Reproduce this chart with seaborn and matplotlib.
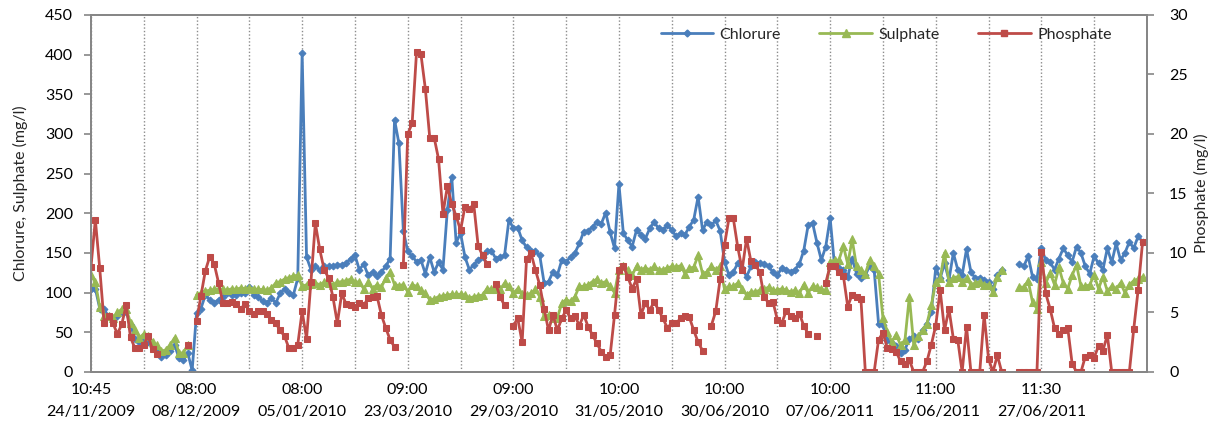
import numpy as np
import pandas as pd
import matplotlib
matplotlib.use("Agg")
import matplotlib.pyplot as plt
from matplotlib.lines import Line2D
import seaborn as sns

nan = np.nan

# ==========================
# DATA
# ==========================

chlorure = [
    105, 105, 80, 79, 70, 66, 70, 76, 76, 59, 42, 38,
    40, 38, 32, 26, 19, 21, 26, 34, 18, 15, 24, 2,
    74, 80, 97, 91, 87, 91, 95, 99, 97, 97, 99, 99,
    107, 97, 95, 89, 87, 93, 87, 99, 105, 99, 97, 118,
    402, 145, 129, 133, 129, 133, 133, 133, 135, 135, 137, 143,
    147, 129, 136, 122, 126, 121, 126, 133, 143, 318, 288, 178,
    152, 146, 139, 141, 124, 145, 126, 138, 129, 204, 246, 163,
    175, 145, 129, 135, 141, 145, 152, 153, 143, 145, 147, 192,
    181, 182, 166, 157, 152, 152, 147, 112, 114, 126, 122, 141,
    139, 145, 150, 162, 177, 178, 183, 189, 187, 201, 176, 156,
    237, 175, 166, 158, 179, 173, 168, 181, 189, 181, 179, 185,
    179, 171, 175, 173, 183, 192, 221, 179, 189, 185, 191, 178,
    139, 122, 126, 137, 131, 120, 133, 139, 137, 136, 133, 126,
    122, 131, 129, 126, 129, 136, 153, 185, 188, 163, 141, 158,
    194, 134, 131, 129, 120, 143, 124, 118, 122, 134, 129, 61,
    59, 40, 36, 33, 24, 28, 42, 45, 42, 53, 61, 76,
    131, 118, 137, 116, 150, 129, 122, 155, 126, 118, 119, 116,
    114, 105, 122, 129, nan, nan, nan, 136, 133, 146, 120, 117,
    156, 141, 138, 129, 143, 156, 147, 139, 158, 150, 133, 124,
    146, 137, 129, 156, 138, 162, 141, 150, 164, 156, 171, 164,
]

sulphate = [
    122, 113, 82, 70, 71, 68, 75, 79, 80, 62, 53, 43,
    48, 45, 38, 34, 26, 28, 34, 43, 24, 24, 34, nan,
    97, 100, 102, 103, 104, 105, 104, 103, 105, 104, 106, 105,
    106, 105, 104, 104, 103, 106, 112, 114, 117, 119, 121, 122,
    108, 110, 111, 112, 110, 113, 112, 110, 113, 114, 115, 117,
    114, 113, 105, 113, 105, 110, 107, 118, 126, 110, 109, 110,
    101, 110, 108, 103, 99, 91, 92, 95, 96, 97, 98, 98,
    98, 97, 93, 95, 96, 97, 105, 104, 105, 104, 112, 108,
    99, 105, 98, 97, 99, 104, 95, 70, 72, 68, 68, 87,
    91, 89, 95, 108, 108, 110, 114, 117, 112, 114, 108, 100,
    129, 133, 129, 122, 133, 129, 131, 129, 133, 129, 129, 131,
    133, 132, 134, 124, 131, 132, 147, 124, 126, 133, 129, 133,
    104, 108, 108, 112, 105, 97, 101, 101, 103, 104, 107, 103,
    103, 105, 103, 101, 103, 99, 110, 100, 108, 107, 104, 103,
    139, 141, 141, 159, 136, 167, 133, 129, 124, 141, 133, 124,
    68, 51, 38, 47, 34, 40, 95, 34, 45, 53, 61, 84,
    114, 118, 150, 114, 119, 120, 114, 118, 110, 112, 114, 110,
    110, 101, 120, 129, nan, nan, nan, 107, 107, 115, 88, 80,
    138, 112, 125, 110, 132, 112, 105, 122, 135, 108, 108, 110,
    122, 105, 120, 102, 108, 105, 112, 100, 110, 115, 117, 120,
]

phosphate = [
    8.8, 12.8, 8.7, 4.1, 4.7, 4.1, 3.2, 4.0, 5.6, 2.9, 2.0, 2.0,
    2.3, 3.0, 1.9, 1.5, nan, nan, nan, nan, nan, nan, 2.3, nan,
    4.3, 6.4, 8.5, 9.7, 9.1, 7.5, 5.8, 5.8, 5.9, 5.7, 5.3, 5.7,
    5.1, 4.9, 5.1, 5.1, 4.9, 4.4, 4.1, 3.5, 3.0, 2.0, 2.0, 2.3,
    5.1, 2.8, 7.6, 12.5, 10.3, 8.6, 7.9, 6.3, 4.1, 6.6, 5.7, 5.6,
    5.5, 5.8, 5.6, 6.2, 6.3, 6.4, 4.8, 3.7, 2.7, 2.1, nan, 9.0,
    20.0, 20.9, 26.9, 26.7, 23.8, 19.7, 19.7, 17.9, 13.3, 15.6, 14.1, 13.1,
    11.9, 13.9, 13.7, 14.1, 10.6, 9.8, 9.1, nan, 7.4, 6.3, 5.6, nan,
    3.9, 4.5, 2.5, 9.5, 10.0, 8.6, 7.3, 5.3, 3.5, 4.8, 3.5, 4.5,
    5.2, 4.5, 4.7, 3.9, 4.8, 3.8, 3.1, 2.4, 1.7, 1.3, 1.4, 4.8,
    8.6, 8.9, 8.0, 7.0, 7.8, 4.8, 5.8, 5.2, 5.9, 5.2, 4.5, 3.7,
    4.1, 4.1, 4.5, 4.7, 4.6, 3.5, 2.5, 1.8, nan, 3.9, 5.1, 7.8,
    10.7, 12.9, 12.9, 10.5, 8.6, 11.2, 9.3, 9.0, 8.4, 6.3, 5.8, 5.9,
    4.4, 4.1, 5.1, 4.7, 4.5, 4.9, 3.9, 3.2, nan, 3.0, nan, 7.5,
    8.9, 8.9, 8.4, 8.1, 5.5, 6.5, 6.3, 6.1, 0, 0, 0, 2.7,
    3.3, 2.0, 1.9, 1.7, 0.9, 0.7, 1.0, 0, 0, 0, 0.9, 2.3,
    3.9, 6.9, 3.5, 5.3, 2.8, 2.7, 0, 3.8, 0, 0, 0, 4.8,
    1.1, 0, 1.4, 0, nan, nan, nan, 0, 0, 0, 0, 0,
    10.1, 6.6, 5.3, 3.7, 3.2, 3.5, 3.7, 0.7, 0, 0, 1.3, 1.4,
    1.2, 2.2, 1.8, 3.1, 0, 0, 0, 0, 0, 3.6, 6.9, 10.9,
]

date_labels = [
    "10:45\n24/11/2009", "08:00\n08/12/2009", "08:00\n05/01/2010",
    "09:00\n23/03/2010", "09:00\n29/03/2010", "10:00\n31/05/2010",
    "10:00\n30/06/2010", "10:00\n07/06/2011", "11:00\n15/06/2011",
    "11:30\n27/06/2011",
]

# ==========================
# STYLE
# ==========================

sns.set_style("white")
plt.rcParams["font.family"] = ["Lato", "DejaVu Sans"]

C_BLUE = "#4A7EBB"
C_GREEN = "#98B954"
C_RED = "#BE4B48"
C_AXIS = "#868686"
FS = 11.5


def segments(values):
    # NaN breaks the line, like empty cells in the sheet
    df = pd.DataFrame({"idx": np.arange(len(values)), "val": values})
    df["seg"] = df["val"].isna().cumsum()
    return df.dropna()


fig = plt.figure(figsize=(12.11, 4.34), dpi=100)
ax = fig.add_axes([0.0751, 0.1429, 0.8720, 0.8226])
ax2 = ax.twinx()

sns.lineplot(data=segments(chlorure), x="idx", y="val", units="seg",
             estimator=None, sort=False, ax=ax, color=C_BLUE, lw=2,
             marker="D", markersize=3.5, markeredgecolor=C_BLUE)
sns.lineplot(data=segments(sulphate), x="idx", y="val", units="seg",
             estimator=None, sort=False, ax=ax, color=C_GREEN, lw=2,
             marker="^", markersize=5.5, markeredgecolor=C_GREEN)
sns.lineplot(data=segments(phosphate), x="idx", y="val", units="seg",
             estimator=None, sort=False, ax=ax2, color=C_RED, lw=2,
             marker="s", markersize=5, markeredgecolor=C_RED)

# axes
n = len(chlorure)
ax.set_xlim(0, n)
ax.set_ylim(0, 450)
ax2.set_ylim(0, 30)
ax.set_yticks(np.arange(0, 451, 50))
ax2.set_yticks(np.arange(0, 31, 5))

xt = np.arange(0, n + 1, 12)
ax.set_xticks(xt)
lab = []
for i, t in enumerate(xt):
    lab.append(date_labels[i // 2] if i % 2 == 0 and i // 2 < len(date_labels) else "")
ax.set_xticklabels(lab, fontsize=FS, linespacing=1.75)

ax.grid(axis="x", color="#8C8C8C", linestyle=(0, (1, 1.5)), lw=1)
ax.grid(axis="y", visible=False)
ax2.grid(False)

for a in (ax, ax2):
    for s in a.spines.values():
        s.set_color(C_AXIS)
        s.set_linewidth(1.3)
    a.tick_params(axis="both", colors="black", labelsize=FS, length=5,
                  width=1.2, color=C_AXIS, direction="out", pad=3)
ax.tick_params(axis="y", pad=8)
ax2.tick_params(axis="y", pad=11)

ax.set_xlabel("")
ax.set_ylabel("Chlorure, Sulphate (mg/l)", fontsize=FS, labelpad=12)
ax2.set_ylabel("Phosphate (mg/l)", fontsize=FS, labelpad=4)

handles = [
    Line2D([], [], color=C_BLUE, lw=2, marker="D", markersize=3.5),
    Line2D([], [], color=C_GREEN, lw=2, marker="^", markersize=5.5),
    Line2D([], [], color=C_RED, lw=2, marker="s", markersize=5),
]
ax2.legend(handles, ["Chlorure", "Sulphate", "Phosphate"], ncol=3,
           loc="center", bbox_to_anchor=(0.753, 0.944), frameon=False,
           fontsize=FS, handlelength=3.3, columnspacing=2.4,
           handletextpad=0.4)

fig.savefig("out.png", dpi=100)
